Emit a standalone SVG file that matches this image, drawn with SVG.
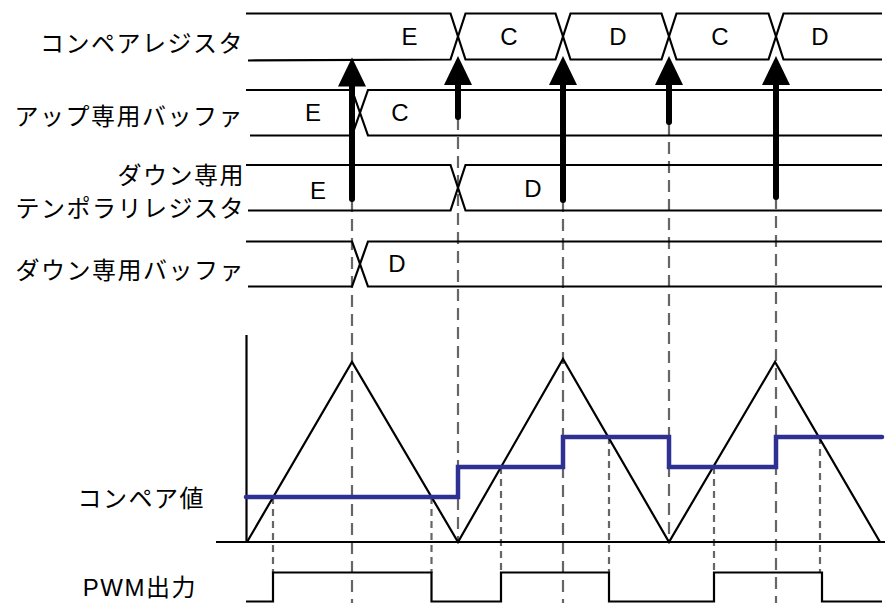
<svg xmlns="http://www.w3.org/2000/svg" width="887" height="603" viewBox="0 0 887 603">
<style>
.bg{fill:#fff}
.sig{fill:none;stroke:#000;stroke-width:2.2}
.lbl{font-family:"Liberation Sans","Noto Sans CJK JP",sans-serif;font-size:24px;letter-spacing:1.5px;fill:#000;text-anchor:end}
.val{font-family:"Liberation Sans",Arial,sans-serif;font-size:24px;fill:#000;text-anchor:middle}
.arr{fill:none;stroke:#000;stroke-width:6;stroke-linecap:round}
.dl{fill:none;stroke:#666;stroke-width:2.2;stroke-dasharray:12 7}
.ds{fill:none;stroke:#666;stroke-width:2.2;stroke-dasharray:7 5}
.blue{fill:none;stroke:#2e3192;stroke-width:4.5;stroke-linejoin:miter;stroke-linecap:round}
</style>
<defs>
<marker id="head" markerUnits="userSpaceOnUse" viewBox="0 -14 29 28" refX="0" refY="0" markerWidth="29" markerHeight="28" orient="auto" overflow="visible">
<path d="M0,-14 L29,0 L0,14 Z" fill="#000"/>
</marker>
</defs>
<rect class="bg" width="887" height="603"/>

<g id="guides">
<path class="dl" d="M352,200 V603"/>
<path class="dl" d="M563,200 V603"/>
<path class="dl" d="M776,197 V603"/>
<path class="dl" d="M458,118 V542"/>
<path class="dl" d="M669,123 V542"/>
<path class="ds" d="M273,497 V573"/>
<path class="ds" d="M431.5,497 V573"/>
<path class="ds" d="M501,467 V573"/>
<path class="ds" d="M609,437 V573"/>
<path class="ds" d="M714,467 V573"/>
<path class="ds" d="M820,437 V573"/>
</g>

<g id="compare-register">
<text class="lbl" x="244" y="52">コンペアレジスタ</text>
<path class="sig" d="M246,13.5 H450.5 L465.5,59.5 H555.5 L570.5,13.5 H661.5 L676.5,59.5 H768.5 L783.5,13.5 H882"/>
<path class="sig" d="M248,60.5 L450.5,59.5 L465.5,13.5 H555.5 L570.5,59.5 H661.5 L676.5,13.5 H768.5 L783.5,59.5 H882"/>
<text class="val" x="409.5" y="45">E</text>
<text class="val" x="509" y="45">C</text>
<text class="val" x="618" y="45">D</text>
<text class="val" x="720" y="45">C</text>
<text class="val" x="820" y="45">D</text>
</g>

<g id="up-buffer">
<text class="lbl" x="244" y="125">アップ専用バッファ</text>
<path class="sig" d="M246,90 H352 L368,135.5 H882"/>
<path class="sig" d="M250,135.5 H352 L368,90 H882"/>
<text class="val" x="313" y="121">E</text>
<text class="val" x="400" y="121">C</text>
</g>

<g id="down-temp-register">
<text class="lbl" x="245" y="184">ダウン専用</text>
<text class="lbl" x="245" y="217">テンポラリレジスタ</text>
<path class="sig" d="M246,165 H450.5 L465.5,210.5 H882"/>
<path class="sig" d="M248,210.5 H450.5 L465.5,165 H882"/>
<text class="val" x="318" y="199">E</text>
<text class="val" x="533" y="197">D</text>
</g>

<g id="down-buffer">
<text class="lbl" x="245" y="279">ダウン専用バッファ</text>
<path class="sig" d="M246,241.5 H352 L368,286.5 H882"/>
<path class="sig" d="M248,286.5 H352 L368,241.5 H882"/>
<text class="val" x="397" y="272">D</text>
</g>

<g id="connectors">
<path class="arr" d="M352,199 V86.5" marker-end="url(#head)"/>
<path class="arr" d="M458,117 V85" marker-end="url(#head)"/>
<path class="arr" d="M563,200 V85" marker-end="url(#head)"/>
<path class="arr" d="M669,122 V85" marker-end="url(#head)"/>
<path class="arr" d="M776,197 V85" marker-end="url(#head)"/>
</g>

<g id="carrier">
<path class="sig" d="M246.5,335 V542"/>
<path class="sig" d="M216,542 H885"/>
<path class="sig" d="M247,542 L352,362 L458,542 L563,359 L669,542 L775,362 L880,542"/>
</g>

<g id="compare-value">
<text class="lbl" x="205" y="507">コンペア値</text>
<path class="blue" d="M246,497 H458 V467 H563 V437 H669 V467 H776 V437 H882"/>
</g>

<g id="pwm-output">
<text class="lbl" x="197" y="596">PWM出力</text>
<path class="sig" d="M246,601.5 H273 V572.5 H431.5 V601.5 H501 V572.5 H609 V601.5 H714 V572.5 H822 V601.5 H882"/>
</g>
</svg>
